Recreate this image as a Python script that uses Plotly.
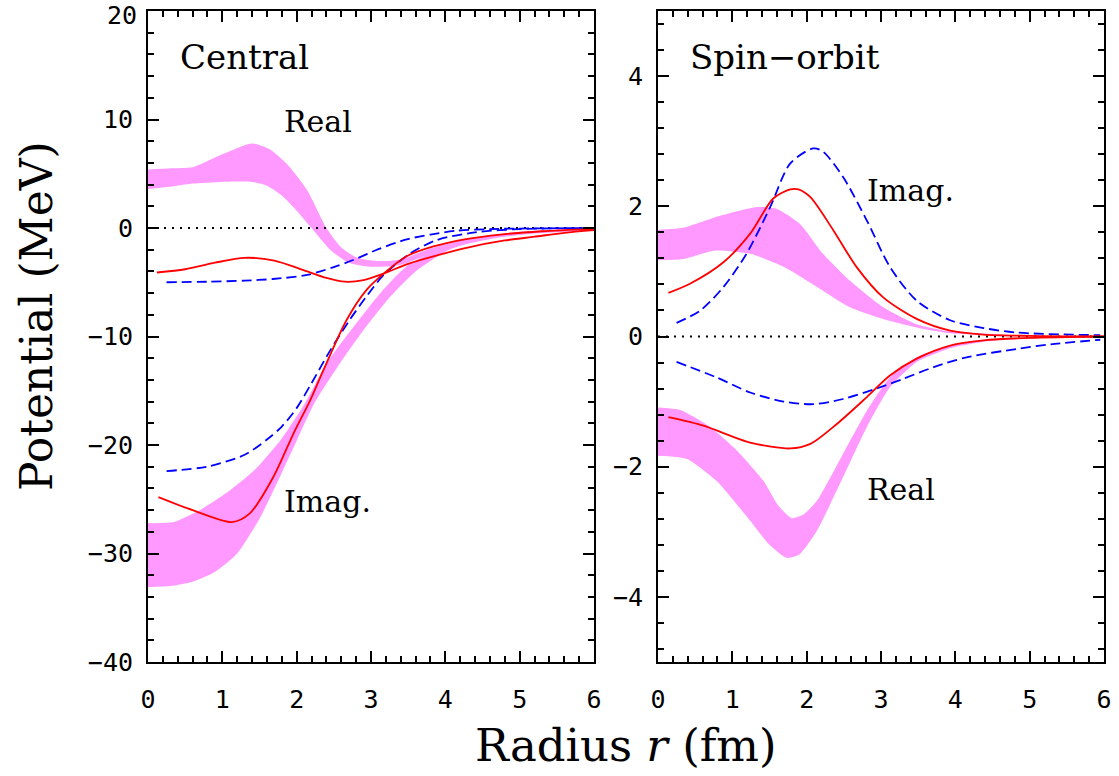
import plotly.graph_objects as go

# ---------------- Central panel data ----------------
c_real_band_up_x = [0, 0.3, 0.6, 1.0, 1.4, 1.65, 1.87, 2.14, 2.4, 2.6, 2.8, 3.0, 3.2, 3.4, 3.8, 4.2, 4.7, 5.2, 6.0]
c_real_band_up_y = [5.4, 5.5, 5.6, 6.8, 7.8, 7.2, 5.9, 3.5, 0.0, -1.8, -2.7, -3.0, -3.05, -2.9, -1.9, -1.15, -0.6, -0.3, -0.05]
c_real_band_lo_x = [0, 0.3, 0.6, 1.0, 1.4, 1.6, 1.8, 2.0, 2.2, 2.45, 2.7, 2.95, 3.2, 3.4, 3.8, 4.2, 4.7, 5.2, 6.0]
c_real_band_lo_y = [3.6, 3.8, 4.1, 4.25, 4.25, 3.9, 3.0, 1.6, 0.0, -2.0, -3.2, -3.55, -3.55, -3.4, -2.4, -1.6, -0.9, -0.5, -0.15]

c_imag_band_up_x = [0, 0.35, 0.7, 1.1, 1.45, 1.8, 2.1, 2.4, 2.8, 3.15, 3.5, 4.05, 4.5, 5.0, 5.5, 6.0]
c_imag_band_up_y = [-27.2, -27.1, -26.0, -24.2, -22.2, -19.4, -16.3, -12.5, -8.8, -5.8, -3.4, -1.6, -0.8, -0.35, -0.15, -0.05]
c_imag_band_lo_x = [0, 0.3, 0.6, 0.9, 1.2, 1.5, 1.75, 2.0, 2.25, 2.55, 2.9, 3.25, 3.6, 4.05, 4.5, 5.0, 5.5, 6.0]
c_imag_band_lo_y = [-33.1, -33.0, -32.6, -31.7, -30.0, -26.8, -23.3, -19.6, -16.0, -12.8, -9.4, -6.4, -4.0, -2.0, -1.1, -0.55, -0.25, -0.1]

c_red_real_x = [0.12, 0.5, 0.9, 1.3, 1.7, 2.1, 2.4, 2.65, 2.9, 3.17, 3.5, 3.9, 4.3, 4.8, 5.2, 5.6, 6.0]
c_red_real_y = [-4.1, -3.8, -3.2, -2.75, -3.0, -3.9, -4.6, -4.95, -4.8, -4.2, -3.3, -2.5, -1.8, -1.15, -0.8, -0.45, -0.2]
c_red_imag_x = [0.14, 0.6, 1.13, 1.37, 1.69, 1.96, 2.18, 2.36, 2.67, 2.94, 3.17, 3.48, 3.84, 4.3, 4.74, 5.3, 6.0]
c_red_imag_y = [-24.8, -26.0, -27.1, -26.3, -22.9, -18.9, -15.9, -13.1, -8.5, -5.7, -4.2, -2.6, -1.7, -1.0, -0.6, -0.3, -0.08]

c_blue_real_x = [0.25, 0.8, 1.3, 1.68, 2.14, 2.5, 2.76, 3.1, 3.48, 3.8, 4.15, 4.6, 5.0, 6.0]
c_blue_real_y = [-5.0, -4.95, -4.85, -4.7, -4.33, -3.6, -2.95, -1.95, -1.05, -0.6, -0.25, -0.1, -0.05, 0.0]
c_blue_imag_x = [0.25, 0.79, 1.3, 1.6, 1.8, 2.0, 2.2, 2.45, 2.72, 2.94, 3.17, 3.53, 3.89, 4.4, 5.0, 6.0]
c_blue_imag_y = [-22.4, -22.0, -20.9, -19.5, -18.3, -16.6, -14.3, -11.3, -8.4, -6.3, -4.33, -2.33, -1.1, -0.4, -0.1, 0.0]

# ---------------- Spin-orbit panel data ----------------
s_imag_band_up_x = [0, 0.34, 0.79, 1.33, 1.6, 1.91, 2.22, 2.58, 3.03, 3.48, 3.93, 4.83, 6.0]
s_imag_band_up_y = [1.64, 1.67, 1.84, 1.99, 1.96, 1.73, 1.27, 0.86, 0.45, 0.19, 0.08, 0.02, 0.0]
s_imag_band_lo_x = [0, 0.34, 0.77, 1.24, 1.69, 2.14, 2.58, 3.03, 3.48, 3.93, 4.83, 6.0]
s_imag_band_lo_y = [1.17, 1.19, 1.32, 1.27, 1.07, 0.76, 0.45, 0.27, 0.14, 0.05, 0.01, 0.0]

s_real_band_up_x = [0, 0.3, 0.7, 1.06, 1.42, 1.62, 1.8, 1.95, 2.14, 2.49, 2.81, 3.12, 3.48, 3.93, 4.38, 5.0, 6.0]
s_real_band_up_y = [-1.09, -1.13, -1.39, -1.75, -2.22, -2.6, -2.79, -2.74, -2.52, -1.8, -1.14, -0.63, -0.32, -0.14, -0.06, -0.02, 0.0]
s_real_band_lo_x = [0, 0.39, 0.79, 1.24, 1.5, 1.73, 1.9, 2.14, 2.49, 2.81, 3.12, 3.48, 3.93, 4.38, 5.0, 6.0]
s_real_band_lo_y = [-1.83, -1.88, -2.22, -2.83, -3.2, -3.4, -3.35, -2.98, -2.16, -1.39, -0.78, -0.39, -0.18, -0.08, -0.03, 0.0]

s_red_imag_x = [0.14, 0.43, 0.88, 1.24, 1.55, 1.78, 1.89, 2.05, 2.36, 2.67, 3.03, 3.48, 3.93, 4.38, 5.0, 6.0]
s_red_imag_y = [0.67, 0.81, 1.14, 1.58, 2.12, 2.26, 2.26, 2.14, 1.63, 1.07, 0.6, 0.27, 0.09, 0.03, 0.01, 0.0]
s_red_real_x = [0.14, 0.61, 1.24, 1.78, 2.05, 2.41, 2.81, 3.12, 3.48, 3.93, 4.38, 5.0, 6.0]
s_red_real_y = [-1.24, -1.37, -1.63, -1.72, -1.65, -1.34, -0.93, -0.6, -0.34, -0.14, -0.06, -0.02, 0.0]

s_blue_imag_x = [0.25, 0.57, 0.88, 1.19, 1.51, 1.78, 2.09, 2.22, 2.49, 2.81, 3.12, 3.48, 3.93, 4.38, 4.83, 5.95]
s_blue_imag_y = [0.21, 0.4, 0.76, 1.27, 1.99, 2.66, 2.89, 2.84, 2.45, 1.78, 1.07, 0.55, 0.25, 0.13, 0.06, 0.02]
s_blue_real_x = [0.25, 0.79, 1.24, 1.69, 2.09, 2.49, 2.94, 3.3, 3.71, 4.15, 4.83, 5.28, 5.95]
s_blue_real_y = [-0.39, -0.63, -0.86, -1.0, -1.04, -0.96, -0.8, -0.65, -0.47, -0.32, -0.19, -0.12, -0.05]

zero_x = [0, 6]
zero_y = [0, 0]

# tick values
c_yticks = [-40, -30, -20, -10, 0, 10]
c_ytop = 20
s_yticks = [-4, -2, 0, 2, 4]
xticks = [0, 1, 2, 3, 4, 5, 6]

BAND = "rgb(255,153,255)"
RED = "rgb(255,0,0)"
BLUE = "rgb(0,0,255)"
SERIF = "DejaVu Serif"
MONO = "DejaVu Sans Mono"
DASH = "10px,5px"

fig = go.Figure()


def band(ux, uy, lx, ly, xa, ya):
    fig.add_trace(go.Scatter(
        x=list(ux) + list(lx)[::-1], y=list(uy) + list(ly)[::-1],
        fill="toself", fillcolor=BAND, mode="lines",
        line=dict(width=0, color=BAND, shape="spline", smoothing=0.6),
        xaxis=xa, yaxis=ya, hoverinfo="skip", showlegend=False))


def curve(x, y, color, dash, xa, ya, width=1.8):
    fig.add_trace(go.Scatter(
        x=x, y=y, mode="lines",
        line=dict(color=color, width=width, dash=dash, shape="spline", smoothing=0.8),
        xaxis=xa, yaxis=ya, showlegend=False))


def zero(xa, ya):
    fig.add_trace(go.Scatter(x=zero_x, y=zero_y, mode="lines",
                             line=dict(color="black", width=2.2, dash="2px,6px"),
                             xaxis=xa, yaxis=ya, showlegend=False))


# Central panel
band(c_real_band_up_x, c_real_band_up_y, c_real_band_lo_x, c_real_band_lo_y, "x", "y")
band(c_imag_band_up_x, c_imag_band_up_y, c_imag_band_lo_x, c_imag_band_lo_y, "x", "y")
zero("x", "y")
curve(c_blue_real_x, c_blue_real_y, BLUE, DASH, "x", "y")
curve(c_blue_imag_x, c_blue_imag_y, BLUE, DASH, "x", "y")
curve(c_red_real_x, c_red_real_y, RED, "solid", "x", "y")
curve(c_red_imag_x, c_red_imag_y, RED, "solid", "x", "y")

# Spin-orbit panel
band(s_imag_band_up_x, s_imag_band_up_y, s_imag_band_lo_x, s_imag_band_lo_y, "x2", "y2")
band(s_real_band_up_x, s_real_band_up_y, s_real_band_lo_x, s_real_band_lo_y, "x2", "y2")
zero("x2", "y2")
curve(s_blue_imag_x, s_blue_imag_y, BLUE, DASH, "x2", "y2")
curve(s_blue_real_x, s_blue_real_y, BLUE, DASH, "x2", "y2")
curve(s_red_imag_x, s_red_imag_y, RED, "solid", "x2", "y2")
curve(s_red_real_x, s_red_real_y, RED, "solid", "x2", "y2")

W, H = 1119, 776
TICKFONT = dict(family=MONO, size=25, color="black")
axis_common = dict(
    showline=True, linecolor="black", linewidth=2, mirror="allticks",
    ticks="inside", ticklen=11, tickwidth=2, tickcolor="black",
    showgrid=False, zeroline=False, ticklabeloverflow="allow", automargin=False,
    tickfont=TICKFONT,
)
xminor = dict(ticks="inside", ticklen=6, tickwidth=1.5, dtick=0.2, tickcolor="black")

fig.update_layout(
    width=W, height=H,
    margin=dict(l=0, r=0, t=0, b=0, autoexpand=False),
    paper_bgcolor="white", plot_bgcolor="white",
    xaxis=dict(domain=[148 / W, 594 / W], range=[0, 6.0001], tickvals=xticks, anchor="y",
               ticklabelstandoff=14, minor=xminor, **axis_common),
    yaxis=dict(domain=[1 - 662 / H, 1 - 11 / H], range=[-40, 20.001],
               tickvals=c_yticks + [c_ytop], ticktext=[str(v).replace("-", "\u2212") for v in c_yticks] + [""],
               anchor="x", ticklabelstandoff=8,
               minor=dict(ticks="inside", ticklen=6, tickwidth=1.5, dtick=2, tickcolor="black"),
               **axis_common),
    xaxis2=dict(domain=[658 / W, 1104 / W], range=[0, 6.0001], tickvals=xticks, anchor="y2",
                ticklabelstandoff=14, minor=xminor, **axis_common),
    yaxis2=dict(domain=[1 - 662 / H, 1 - 11 / H], range=[-5, 5], tickvals=s_yticks, anchor="x2",
                ticklabelstandoff=8,
                minor=dict(ticks="inside", ticklen=6, tickwidth=1.5, dtick=0.4, tickcolor="black"),
                **axis_common),
)

# top tick label of the central panel, nudged down so it stays inside the page
fig.add_annotation(x=(148 - 9) / W, y=c_ytop, xref="paper", yref="y", text=str(c_ytop),
                   showarrow=False, xanchor="right", yanchor="middle", yshift=-4, font=TICKFONT)

ann_font = dict(family=SERIF, size=30, color="black")
title_font = dict(family=SERIF, size=34, color="black")
fig.add_annotation(x=0.4, y=15.8, xref="x", yref="y", text="Central", showarrow=False,
                   xanchor="left", yanchor="middle", font=title_font)
fig.add_annotation(x=0.4, y=4.29, xref="x2", yref="y2", text="Spin\u2212orbit", showarrow=False,
                   xanchor="left", yanchor="middle", font=title_font)
fig.add_annotation(x=1.8, y=9.8, xref="x", yref="y", text="Real", showarrow=False,
                   xanchor="left", yanchor="middle", font=ann_font)
fig.add_annotation(x=1.8, y=-25.2, xref="x", yref="y", text="Imag.", showarrow=False,
                   xanchor="left", yanchor="middle", font=ann_font)
fig.add_annotation(x=2.78, y=2.25, xref="x2", yref="y2", text="Imag.", showarrow=False,
                   xanchor="left", yanchor="middle", font=ann_font)
fig.add_annotation(x=2.78, y=-2.35, xref="x2", yref="y2", text="Real", showarrow=False,
                   xanchor="left", yanchor="middle", font=ann_font)

fig.add_annotation(x=36 / W, y=1 - 316 / H, xref="paper", yref="paper", text="Potential (MeV)",
                   showarrow=False, textangle=-90, xanchor="center", yanchor="middle",
                   font=dict(family=SERIF, size=44, color="black"))
fig.add_annotation(x=626 / W, y=1 - 745 / H, xref="paper", yref="paper", text="Radius <i>r</i> (fm)",
                   showarrow=False, xanchor="center", yanchor="middle",
                   font=dict(family=SERIF, size=45, color="black"))

fig.write_html("out.html")
